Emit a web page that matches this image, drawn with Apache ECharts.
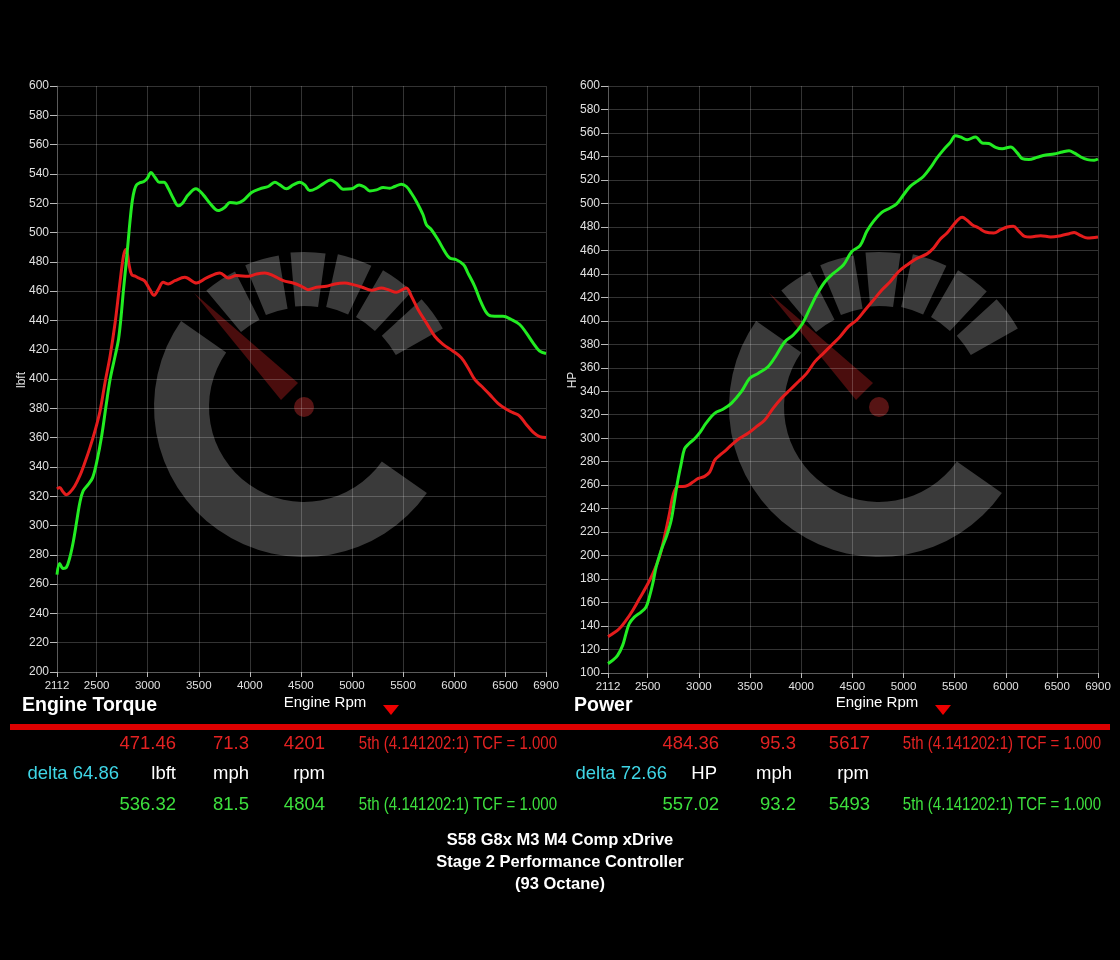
<!DOCTYPE html>
<html>
<head>
<meta charset="utf-8">
<script src="https://cdn.jsdelivr.net/npm/echarts@6/dist/echarts.min.js"></script>
<style>
html,body{margin:0;padding:0;background:#000;}
#chart{width:1120px;height:960px;}
</style>
</head>
<body>
<div id="chart"></div>
<script>
// ---------- DATA ----------
const xTicks = [2112, 2500, 3000, 3500, 4000, 4500, 5000, 5500, 6000, 6500, 6900];

const torqueRedRpm = [2112,2138,2171,2204,2237,2286,2336,2385,2434,2484,2533,2582,2632,2681,2724,2763,2786,2803,2815,2843,2878,2908,2944,2973,3022,3061,3103,3152,3201,3266,3364,3478,3576,3707,3788,3870,3984,4066,4147,4229,4327,4424,4506,4571,4653,4750,4832,4930,5011,5093,5191,5289,5354,5435,5494,5533,5582,5647,5729,5811,5892,5990,6071,6136,6202,6267,6348,6430,6512,6577,6642,6707,6773,6838,6900];
const torqueRed    = [325,326,323,321,322.5,327,334,343,353,364.6,378,397.5,415.7,438.4,463.4,484,488.4,485,479,471.2,470.2,469,468,466.7,461,457.1,461,466,464.9,467.1,469.4,465.5,469,472.4,469,470.6,470.1,471.7,472.4,470.6,467.1,465.5,463.3,461,462.6,463.3,464.9,465.5,464.4,462.8,460.5,462.1,461,459.2,461,462.1,456.5,447.4,438.3,429.2,423.6,419,414.5,407.7,399.7,395.2,389.5,383.4,379.3,377,374.7,369,363.8,360.7,360];

const torqueGreenRpm = [2112,2138,2171,2204,2237,2270,2303,2336,2368,2418,2461,2500,2549,2592,2632,2681,2714,2740,2763,2789,2810,2830,2850,2870,2891,2924,2963,2996,3032,3071,3113,3159,3201,3250,3299,3341,3397,3472,3544,3609,3690,3756,3805,3870,3935,4017,4098,4180,4245,4294,4359,4424,4489,4538,4587,4653,4718,4790,4848,4914,4995,5070,5126,5174,5240,5305,5370,5419,5484,5533,5582,5631,5696,5729,5778,5843,5908,5957,6022,6094,6136,6202,6267,6332,6397,6479,6561,6642,6707,6773,6838,6900];
const torqueGreen    = [266.5,274,270.7,271.4,278,288.4,302,315.7,323.6,328,332.7,343,361,381.6,399.8,415.7,427,443,461,479,495,510,522,529,532.5,534,534.8,537,541,537.7,534.3,534.3,530.2,523.4,518.2,520,525.7,529.8,525.7,520,515,517.3,520.5,520,521.8,527.3,529.8,531.4,534.3,532.5,529.8,532.5,534.3,532.5,528.6,530.2,533.2,535.9,533.6,529.6,529.8,532.5,530.9,528.4,529.1,530.7,530.2,531.4,533,531.4,526.8,521.2,512.1,505.3,501.9,495,487.1,482.6,481.4,478,472.3,463.3,451.9,444,442.8,442.8,440.6,437.2,431.5,424.7,419,417.4];

const powerRedRpm = [2112,2157,2222,2288,2353,2418,2484,2549,2614,2663,2712,2752,2794,2843,2892,2941,2990,3056,3105,3154,3203,3268,3317,3399,3480,3562,3644,3725,3807,3889,3971,4053,4134,4216,4298,4379,4461,4543,4624,4706,4788,4869,4951,5033,5131,5229,5294,5360,5425,5490,5539,5572,5621,5670,5735,5801,5882,5948,6013,6072,6127,6183,6242,6340,6438,6536,6618,6667,6732,6797,6900];
const powerRed    = [131,133.4,137.7,144.8,153.3,163.2,173.2,184.5,198.7,215.8,235.6,252.7,258.9,258.9,259.8,262.6,265.5,267.5,271.1,281.1,285.3,290,294.2,299.9,304.2,309.8,315.5,325.4,334,341.1,348.1,355.2,365.2,372.3,379.4,386.5,395,400.7,409.2,417.7,426.2,433.3,441.8,447.5,453.2,457,462,469.7,474.8,481.9,486.7,488.1,485.6,481.9,479,475.6,474.8,477.6,479.9,480.5,476.2,471.9,471.4,472.5,471.4,472.5,474.2,475.3,472.5,470.5,471.4];

const powerGreenRpm = [2112,2157,2206,2255,2288,2320,2369,2435,2484,2516,2549,2582,2631,2686,2729,2762,2794,2827,2860,2902,2958,3007,3072,3154,3235,3317,3415,3497,3578,3676,3758,3840,3922,4003,4085,4150,4232,4314,4412,4493,4575,4641,4706,4788,4869,4935,5000,5065,5131,5196,5261,5327,5392,5457,5507,5556,5621,5703,5768,5833,5899,5964,6046,6111,6160,6225,6307,6389,6470,6552,6617,6667,6732,6797,6863,6900];
const powerGreen    = [108,110.7,115,123.5,133.5,142,147.6,151.9,156.2,164.7,176,190.2,204.4,217.2,230,247,264,278.2,291,295.3,299.5,304.5,313,321.2,324.6,329.7,339.6,351,355.2,360.9,370.9,382.2,387.9,396.4,410.6,422,433.3,440.4,447.5,458.9,464,476.2,484.7,492.4,496.1,499.8,507.4,514.5,518.8,523.1,530.2,538.7,545.8,552,557.7,556.6,554.3,556.6,551.5,551,547.8,546.6,548.1,543,538.1,537.3,539.3,541.2,542.1,543.8,544.9,543,539.5,537.3,536.7,537.8];

// readout texts
const leftRedVals   = ['471.46', '71.3', '4201'];
const leftUnits     = ['lbft', 'mph', 'rpm'];
const leftGreenVals = ['536.32', '81.5', '4804'];
const leftDelta     = 'delta 64.86';
const rightRedVals   = ['484.36', '95.3', '5617'];
const rightUnits     = ['HP', 'mph', 'rpm'];
const rightGreenVals = ['557.02', '93.2', '5493'];
const rightDelta     = 'delta 72.66';
const gearText = '5th (4.141202:1) TCF = 1.000';
const titleLines = ['S58 G8x M3 M4 Comp xDrive', 'Stage 2 Performance Controller', '(93 Octane)'];

// ---------- STYLE ----------
const RED = '#e41c1c';
const GREEN = '#22ec22';
const TRED = '#e32222';
const TGREEN = '#3ee03e';
const CYAN = '#3fd6e6';
const SANS = "'Liberation Sans', Arial, sans-serif";
const GRIDC = 'rgba(255,255,255,0.2)';

const zip = (a, b) => a.map((v, i) => [v, b[i]]);

function xAxisCfg(gi) {
  return {
    gridIndex: gi, type: 'value', min: 2112, max: 6900,
    axisLine: {show: true, lineStyle: {color: GRIDC}},
    axisTick: {show: true, customValues: xTicks, length: 5, lineStyle: {color: '#bbb'}},
    axisLabel: {customValues: xTicks, color: '#e0e0e0', fontSize: 11.5, fontFamily: SANS, margin: 8,
                formatter: v => String(v)},
    splitLine: {show: true, lineStyle: {color: GRIDC, width: 1}}
  };
}
function yAxisCfg(gi, min) {
  return {
    gridIndex: gi, type: 'value', min: min, max: 600, interval: 20,
    axisLine: {show: true, lineStyle: {color: GRIDC}},
    axisTick: {show: true, length: 7, lineStyle: {color: '#bbb'}},
    axisLabel: {color: '#e0e0e0', fontSize: 12, fontFamily: SANS, margin: 8, showMinLabel: true, showMaxLabel: true,
                formatter: v => String(v)},
    splitLine: {show: true, lineStyle: {color: GRIDC, width: 1}}
  };
}
function lineSeries(xi, data, color) {
  return {
    type: 'line', xAxisIndex: xi, yAxisIndex: xi, data: data,
    showSymbol: false, smooth: 0.35, lineStyle: {color: color, width: 3}, itemStyle: {color: color},
    z: 5
  };
}

// ---------- DECORATION ----------
const rad = d => d * Math.PI / 180;
const WM = '#3a3a3a';
function watermark(cx, cy) {
  const els = [];
  els.push({type: 'sector', silent: true, z: -5,
    shape: {cx: cx, cy: cy, r: 150, r0: 95, startAngle: rad(35), endAngle: rad(215), clockwise: true},
    style: {fill: WM}});
  const centers = [123.5, 106, 88.5, 71, 53.5, 36];
  centers.forEach((c, i) => {
    els.push({type: 'sector', silent: true, z: -5,
      shape: {cx: cx, cy: cy, r: 152 + i * 1.5, r0: 98 + i * 1.5, startAngle: rad(-(c + 6.5)), endAngle: rad(-(c - 6.5)), clockwise: true},
      style: {fill: WM}});
  });
  els.push({type: 'polygon', silent: true, z: -4,
    shape: {points: [[cx - 110, cy - 114], [cx - 6, cy - 24], [cx - 23, cy - 7]]},
    style: {fill: '#4a0d0d'}});
  els.push({type: 'circle', silent: true, z: -4,
    shape: {cx: cx, cy: cy, r: 10}, style: {fill: '#561414'}});
  return els;
}
function txt(x, y, text, color, font, align, rot, sx) {
  return {type: 'text', x: x, y: y, rotation: rot || 0, scaleX: sx || 1, silent: true, z: 10,
    style: {text: text, fill: color, font: font, textAlign: align || 'left', align: align || 'left',
            textVerticalAlign: 'middle', verticalAlign: 'middle'}};
}
function tri(cx, top) {
  return {type: 'polygon', silent: true, z: 10,
    shape: {points: [[cx - 8, top], [cx + 8, top], [cx, top + 10]]}, style: {fill: '#ee0000'}};
}

const NUMF = '18.5px ' + SANS;
const GEARF = '19px ' + SANS;
function readout(cols, unitCols, gearRight, redV, units, greenV, delta, deltaRight) {
  const e = [];
  const ys = [744, 774, 805];
  redV.forEach((t, i) => e.push(txt(cols[i], ys[0], t, TRED, NUMF, 'right')));
  units.forEach((t, i) => e.push(txt(unitCols[i], ys[1], t, '#ffffff', NUMF, 'right')));
  greenV.forEach((t, i) => e.push(txt(cols[i], ys[2], t, TGREEN, NUMF, 'right')));
  e.push(txt(deltaRight, ys[1], delta, CYAN, NUMF, 'right'));
  e.push(txt(gearRight, ys[0], gearText, TRED, GEARF, 'right', 0, 0.79));
  e.push(txt(gearRight, ys[2], gearText, TGREEN, GEARF, 'right', 0, 0.79));
  return e;
}

let graphics = [];
graphics = graphics.concat(watermark(304, 407), watermark(879, 407));
graphics.push(txt(22, 380, 'lbft', '#e0e0e0', '12px ' + SANS, 'center', Math.PI / 2));
graphics.push(txt(573, 380, 'HP', '#e0e0e0', '12px ' + SANS, 'center', Math.PI / 2));
graphics.push(txt(325, 703, 'Engine Rpm', '#ffffff', '15px ' + SANS, 'center'));
graphics.push(txt(877, 703, 'Engine Rpm', '#ffffff', '15px ' + SANS, 'center'));
graphics.push(tri(391, 705), tri(943, 705));
graphics.push(txt(22, 706, 'Engine Torque', '#ffffff', 'bold 19.5px ' + SANS, 'left'));
graphics.push(txt(574, 706, 'Power', '#ffffff', 'bold 19.5px ' + SANS, 'left'));
graphics.push({type: 'rect', silent: true, z: 10, shape: {x: 10, y: 724, width: 1100, height: 6}, style: {fill: '#dd0000'}});
graphics = graphics.concat(readout([176, 249, 325], [176, 249, 325], 557, leftRedVals, leftUnits, leftGreenVals, leftDelta, 119));
graphics = graphics.concat(readout([719, 796, 870], [717, 792, 869], 1101, rightRedVals, rightUnits, rightGreenVals, rightDelta, 667));
titleLines.forEach((t, i) => graphics.push(txt(560, 840 + i * 22, t, '#ffffff', 'bold 16.5px ' + SANS, 'center')));

// ---------- CHART ----------
const chart = echarts.init(document.getElementById('chart'), null, {renderer: 'canvas'});
chart.setOption({
  backgroundColor: '#000000',
  animation: false,
  grid: [
    {left: 57, top: 86, width: 489, height: 586},
    {left: 608, top: 86, width: 490, height: 587}
  ],
  xAxis: [xAxisCfg(0), xAxisCfg(1)],
  yAxis: [yAxisCfg(0, 200), yAxisCfg(1, 100)],
  series: [
    lineSeries(0, zip(torqueRedRpm, torqueRed), RED),
    lineSeries(0, zip(torqueGreenRpm, torqueGreen), GREEN),
    lineSeries(1, zip(powerRedRpm, powerRed), RED),
    lineSeries(1, zip(powerGreenRpm, powerGreen), GREEN)
  ],
  graphic: {elements: graphics}
});
</script>
</body>
</html>
